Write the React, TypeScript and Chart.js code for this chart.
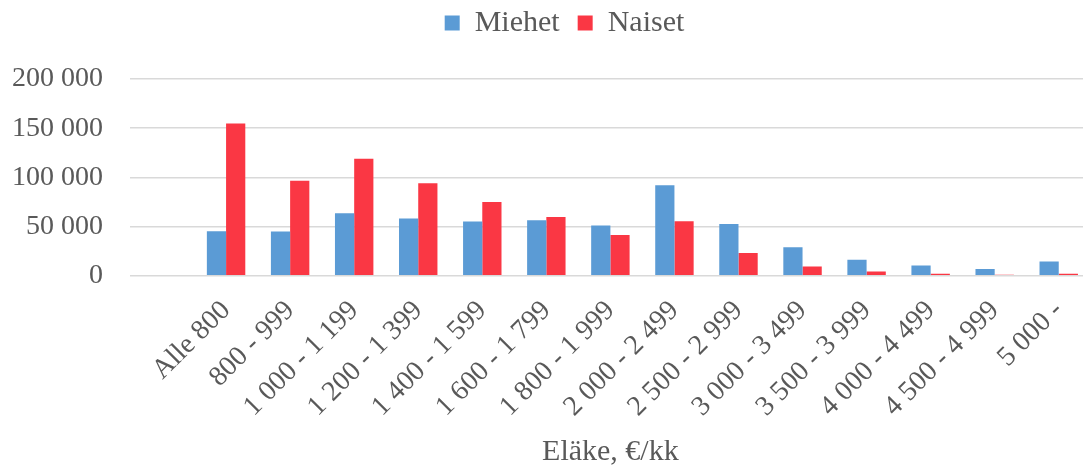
import React, { useEffect, useRef } from "react";
import { Chart, registerables } from "chart.js";

Chart.register(...registerables);

const categories = [
  "Alle 800",
  "800 - 999",
  "1 000 - 1 199",
  "1 200 - 1 399",
  "1 400 - 1 599",
  "1 600 - 1 799",
  "1 800 - 1 999",
  "2 000 - 2 499",
  "2 500 - 2 999",
  "3 000 - 3 499",
  "3 500 - 3 999",
  "4 000 - 4 499",
  "4 500 - 4 999",
  "5 000 -",
];

const miehet = [45100, 44800, 63400, 58000, 55000, 56300, 50900, 91900, 52600, 28800, 16300, 10200, 6800, 14300];
const naiset = [154700, 96400, 118800, 94000, 75000, 59700, 41400, 55300, 23100, 9200, 4100, 2000, 1000, 2000];

const yTicks = [0, 50000, 100000, 150000, 200000];

const FONT = "'Liberation Serif', 'Times New Roman', serif";
const TEXT = "#595959";
const GRID = "#D9D9D9";

const fmt = (v: number) => String(v).replace(/\B(?=(\d{3})+(?!\d))/g, " ");

const legendSpacer = {
  id: "legendSpacer",
  beforeInit(chart: any) {
    const origFit = chart.legend.fit;
    chart.legend.fit = function () {
      origFit.bind(chart.legend)();
      this.height += 31;
    };
  },
  afterLayout(chart: any) {
    if (chart.legend) {
      chart.legend.left += 36;
    }
  },
};

export default function App() {
  const ref = useRef<HTMLCanvasElement | null>(null);

  useEffect(() => {
    if (!ref.current) return;
    const chart = new Chart(ref.current, {
      type: "bar",
      data: {
        labels: ["", ...categories],
        datasets: [
          {
            label: "Miehet",
            data: [null, ...miehet],
            backgroundColor: "#5B9BD5",
            categoryPercentage: 0.6,
            barPercentage: 1,
          },
          {
            label: "Naiset",
            data: [null, ...naiset],
            backgroundColor: "#FA3744",
            categoryPercentage: 0.6,
            barPercentage: 1,
          },
        ],
      },
      plugins: [legendSpacer],
      options: {
        responsive: false,
        animation: false,
        devicePixelRatio: 1,
        layout: { padding: { top: -10, right: 0, bottom: 0, left: 0 } },
        plugins: {
          legend: {
            position: "top",
            labels: {
              boxWidth: 15,
              boxHeight: 15,
              padding: 18,
              color: TEXT,
              font: { family: FONT, size: 30 },
            },
          },
          tooltip: { enabled: false },
        },
        scales: {
          x: {
            grid: { display: false },
            border: { display: false },
            ticks: {
              autoSkip: false,
              maxRotation: 45,
              minRotation: 45,
              color: TEXT,
              font: { family: FONT, size: 28 },
              padding: 10.5,
            },
            title: {
              display: true,
              text: "Eläke, €/kk",
              color: TEXT,
              font: { family: FONT, size: 30 },
              padding: { top: 0, bottom: 0 },
            },
          },
          y: {
            min: 0,
            max: 200000,
            afterBuildTicks: (s: any) => {
              s.ticks = yTicks.map((v) => ({ value: v }));
            },
            afterFit: (s: any) => {
              s.width = 130;
            },
            grid: { color: GRID, lineWidth: 1.5, drawTicks: false },
            border: { display: false },
            ticks: {
              color: TEXT,
              font: { family: FONT, size: 28 },
              padding: 27,
              callback: (v: any) => fmt(Number(v)),
            },
          },
        },
      },
    });
    return () => chart.destroy();
  }, []);

  return (
    <div style={{ position: "absolute", left: 0, top: 0, width: 1083, height: 470, overflow: "hidden", background: "#fff" }}>
      <canvas ref={ref} width={1093} height={470} style={{ width: 1093, height: 470, display: "block" }} />
    </div>
  );
}
